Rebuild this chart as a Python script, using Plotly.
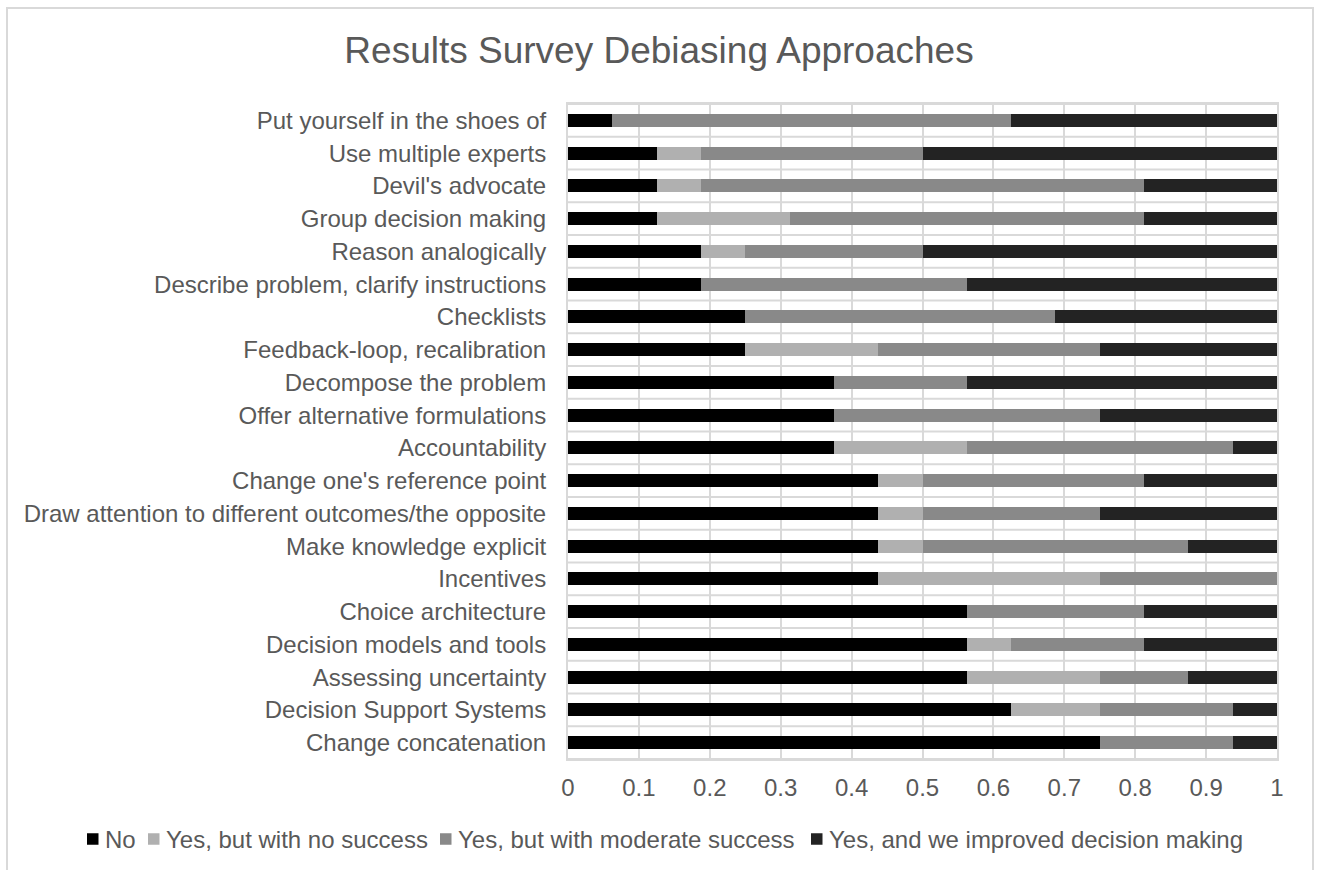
import plotly.graph_objects as go

categories = [
    "Put yourself in the shoes of",
    "Use multiple experts",
    "Devil's advocate",
    "Group decision making",
    "Reason analogically",
    "Describe problem, clarify instructions",
    "Checklists",
    "Feedback-loop, recalibration",
    "Decompose the problem",
    "Offer alternative formulations",
    "Accountability",
    "Change one's reference point",
    "Draw attention to different outcomes/the opposite",
    "Make knowledge explicit",
    "Incentives",
    "Choice architecture",
    "Decision models and tools",
    "Assessing uncertainty",
    "Decision Support Systems",
    "Change concatenation",
]
no = [0.0625, 0.125, 0.125, 0.125, 0.1875, 0.1875, 0.25, 0.25, 0.375, 0.375,
      0.375, 0.4375, 0.4375, 0.4375, 0.4375, 0.5625, 0.5625, 0.5625, 0.625, 0.75]
no_success = [0, 0.0625, 0.0625, 0.1875, 0.0625, 0, 0, 0.1875, 0, 0,
              0.1875, 0.0625, 0.0625, 0.0625, 0.3125, 0, 0.0625, 0.1875, 0.125, 0]
moderate = [0.5625, 0.3125, 0.625, 0.5, 0.25, 0.375, 0.4375, 0.3125, 0.1875, 0.375,
            0.375, 0.3125, 0.25, 0.375, 0.25, 0.25, 0.1875, 0.125, 0.1875, 0.1875]
improved = [0.375, 0.5, 0.1875, 0.1875, 0.5, 0.4375, 0.3125, 0.25, 0.4375, 0.25,
            0.0625, 0.1875, 0.25, 0.125, 0, 0.1875, 0.1875, 0.125, 0.0625, 0.0625]
series_names = ["No", "Yes, but with no success", "Yes, but with moderate success",
                "Yes, and we improved decision making"]
x_tick_vals = [0, 0.1, 0.2, 0.3, 0.4, 0.5, 0.6, 0.7, 0.8, 0.9, 1]
x_tick_text = ["0", "0.1", "0.2", "0.3", "0.4", "0.5", "0.6", "0.7", "0.8", "0.9", "1"]
title_text = "Results Survey Debiasing Approaches"

colors = ["#000000", "#b0b0b0", "#898989", "#232323"]
FONT = "Liberation Sans, Arial, sans-serif"
TXT = "#595959"
GRID = "#d9d9d9"

W, H = 1317, 870
ML, MR, MT, MB = 568, 40, 104, 111
PW = W - ML - MR
PH = H - MT - MB


def px2x(px):
    return (px - ML) / PW


def py2y(py):
    return (H - MB - py) / PH


fig = go.Figure()
for name, vals, col in zip(series_names, [no, no_success, moderate, improved], colors):
    fig.add_trace(go.Bar(
        y=categories, x=vals, name=name, orientation="h",
        marker=dict(color=col, line=dict(width=0)),
        width=0.4, showlegend=False,
        hovertemplate="%{y}: %{x}<extra>" + name + "</extra>",
    ))

shapes = []
annotations = []
# outer chart border
shapes.append(dict(type="rect", xref="paper", yref="paper",
                   x0=px2x(7), x1=px2x(1313), y0=py2y(900), y1=py2y(8),
                   line=dict(color=GRID, width=2), fillcolor="rgba(0,0,0,0)", layer="below"))

# horizontal gridlines at category boundaries (paper coordinates; bars never touch them)
n = len(categories)
for i in range(n + 1):
    yb = 1 - i / n
    shapes.append(dict(type="line", xref="paper", yref="paper",
                       x0=0, x1=1, y0=yb, y1=yb,
                       line=dict(color=GRID, width=2), layer="above"))

# manual legend
legend_sq_px = [87, 148, 440, 811]
sq = 11.5
ly = 839
for name, col, sx in zip(series_names, colors, legend_sq_px):
    shapes.append(dict(type="rect", xref="paper", yref="paper",
                       x0=px2x(sx), x1=px2x(sx + sq), y0=py2y(ly + sq / 2), y1=py2y(ly - sq / 2),
                       fillcolor=col, line=dict(width=0)))
    annotations.append(dict(text=name, xref="paper", yref="paper",
                            x=px2x(sx + sq + 4.5), y=py2y(ly), xanchor="left", yanchor="middle",
                            showarrow=False, font=dict(family=FONT, size=24, color=TXT)))

fig.update_layout(
    width=W, height=H,
    margin=dict(l=ML, r=MR, t=MT, b=MB, pad=0),
    paper_bgcolor="white", plot_bgcolor="white",
    barmode="stack", bargap=0.6,
    title=dict(text=title_text, x=659 / W, xanchor="center", xref="container",
               y=1 - 50 / H, yanchor="middle", yref="container",
               font=dict(family=FONT, size=37, color=TXT)),
    font=dict(family=FONT, size=24, color=TXT),
    xaxis=dict(range=[0, 1], tickvals=x_tick_vals, ticktext=x_tick_text,
               showgrid=True, gridcolor=GRID, gridwidth=2,
               zeroline=False, showline=True, linecolor=GRID, linewidth=2, mirror=True,
               ticks="", ticklabelstandoff=6,
               tickfont=dict(family=FONT, size=24, color=TXT), fixedrange=True),
    yaxis=dict(categoryorder="array", categoryarray=categories, autorange="reversed",
               type="category",
               showgrid=False,
               zeroline=False, showline=True, linecolor=GRID, linewidth=2, mirror=True,
               ticks="", ticklabelstandoff=15,
               tickfont=dict(family=FONT, size=24, color=TXT), fixedrange=True),
    shapes=shapes,
    annotations=annotations,
    showlegend=False,
)

fig.write_html("out.html")
